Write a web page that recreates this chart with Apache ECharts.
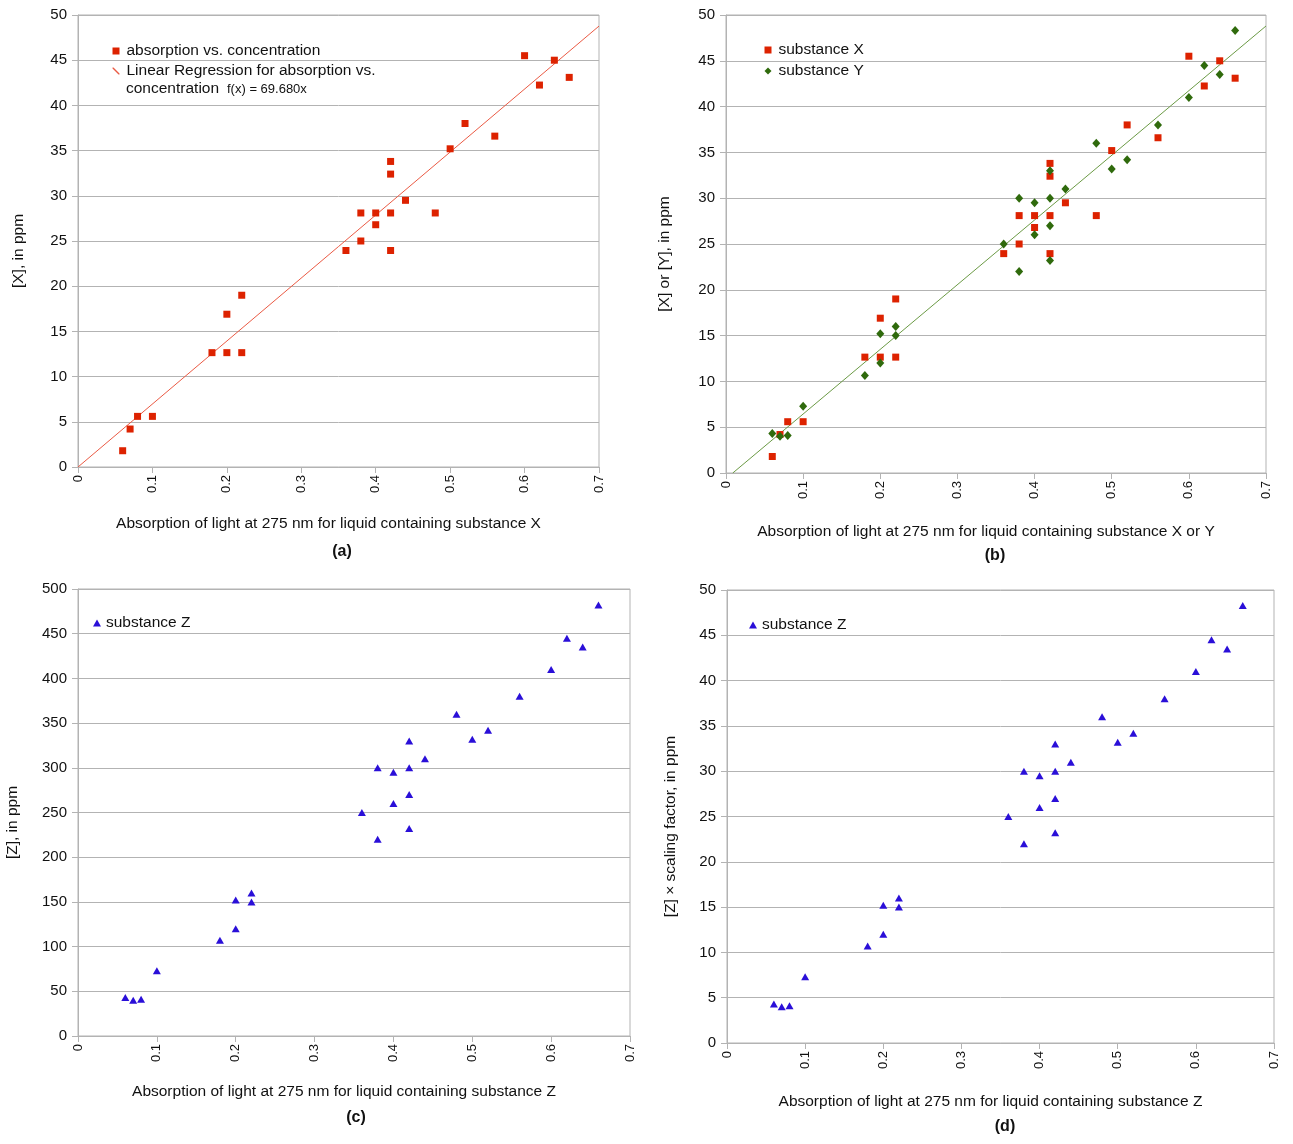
<!DOCTYPE html>
<html>
<head>
<meta charset="utf-8">
<script src="https://cdn.jsdelivr.net/npm/echarts@6/dist/echarts.min.js"></script>
<style>
html,body{margin:0;padding:0;background:#fff;}
#c{width:1293px;height:1144px;}
</style>
</head>
<body>
<div id="c"></div>
<script>
// ---- data ----
const absorbX = [0.06,0.07,0.08,0.10,0.18,0.20,0.20,0.22,0.22,0.36,0.38,0.38,0.40,0.40,0.42,0.42,0.42,0.42,0.44,0.48,0.50,0.52,0.56,0.60,0.62,0.64,0.66];
const concX   = [1.8,4.2,5.6,5.6,12.65,12.65,16.9,12.65,19.0,23.95,25.0,28.1,28.1,26.8,28.1,23.95,32.4,33.8,29.5,28.1,35.2,38.0,36.6,45.5,42.25,45.0,43.1];
const absorbYZ = [0.06,0.07,0.08,0.10,0.18,0.20,0.20,0.22,0.22,0.36,0.38,0.38,0.40,0.40,0.42,0.42,0.42,0.42,0.44,0.48,0.50,0.52,0.56,0.60,0.62,0.64,0.66];
const concY   = [4.3,4.0,4.1,7.3,10.65,12.0,15.2,15.0,16.0,25.0,22.0,30.0,26.0,29.5,23.2,27.0,30.0,33.0,31.0,36.0,33.2,34.2,38.0,41.0,44.5,43.5,48.3];
const concZ   = [43,40,41,73,107,120,152,150,160,250,220,300,260,295,232,270,300,330,310,360,332,342,380,410,445,435,482];
const scaledZ = [4.3,4.0,4.1,7.3,10.7,12.0,15.2,15.0,16.0,25.0,22.0,30.0,26.0,29.5,23.2,27.0,30.0,33.0,31.0,36.0,33.2,34.2,38.0,41.0,44.5,43.5,48.3];
const trendA = {slope: 69.68, intercept: 0};
const trendB = {slope: 70.6, intercept: -0.62};
const xTicks = {min: 0, max: 0.7, step: 0.1};
const yTicksSmall = {min: 0, max: 50, step: 5};
const yTicksLarge = {min: 0, max: 500, step: 50};

const xNames = [
  'Absorption of light at 275 nm for liquid containing substance X',
  'Absorption of light at 275 nm for liquid containing substance X or Y',
  'Absorption of light at 275 nm for liquid containing substance Z',
  'Absorption of light at 275 nm for liquid containing substance Z'
];
const yNames = ['[X], in ppm', '[X] or [Y], in ppm', '[Z], in ppm', '[Z] \u00d7 scaling factor, in ppm'];
const panelLabels = ['(a)', '(b)', '(c)', '(d)'];

// ---- helpers ----
const pair = (xs, ys) => xs.map((x, i) => [x, ys[i]]);
const trendLine = (t) => {
  const x0 = Math.max(xTicks.min, -t.intercept / t.slope);
  return [x0, xTicks.max].map(x => [x, t.slope * x + t.intercept]);
};
const TXT = '#111111';
const GRIDC = '#b3b3b3';
const FONT = 'Liberation Sans';

const grids = [
  {left: 78, top: 15, width: 521, height: 452},
  {left: 726, top: 15, width: 540, height: 458},
  {left: 78, top: 589, width: 552, height: 447},
  {left: 727, top: 590, width: 547, height: 453}
].map(g => Object.assign({show: true, borderColor: GRIDC, borderWidth: 1, backgroundColor: 'transparent'}, g));

const xGaps = [49, 51, 48, 51];
const yGaps = [51, 53, 57, 48];

const xAxes = grids.map((g, i) => ({
  type: 'value', gridIndex: i, min: xTicks.min, max: xTicks.max, interval: xTicks.step,
  name: xNames[i], nameLocation: 'middle', nameGap: xGaps[i],
  nameTextStyle: {fontSize: 15.5, color: TXT, fontFamily: FONT, padding: [0, 20, 0, 0]},
  axisLine: {show: true, onZero: false, lineStyle: {color: GRIDC}},
  axisTick: {show: true, length: 6, lineStyle: {color: GRIDC}},
  axisLabel: {rotate: 90, fontSize: 13, color: TXT, fontFamily: FONT, margin: 8},
  splitLine: {show: false}
}));

const yAxes = grids.map((g, i) => {
  const t = i === 2 ? yTicksLarge : yTicksSmall;
  return {
    type: 'value', gridIndex: i, min: t.min, max: t.max, interval: t.step,
    name: yNames[i], nameLocation: 'middle', nameGap: yGaps[i], nameRotate: 90,
    nameTextStyle: {fontSize: 15.5, color: TXT, fontFamily: FONT, padding: [0, 20, 0, 0]},
    axisLine: {show: true, lineStyle: {color: GRIDC}},
    axisTick: {show: true, length: 6, lineStyle: {color: GRIDC}},
    axisLabel: {fontSize: 15, color: TXT, fontFamily: FONT, margin: 11},
    splitLine: {show: true, lineStyle: {color: GRIDC, width: 1}}
  };
});

const RED = '#dd2200', GREEN = '#2f6a0c', BLUE = '#2a0fd8';
const LINE_A = '#ea5a44', LINE_B = '#6b9a45';
const regName = 'Linear Regression for absorption vs. concentration';

const series = [
  {type: 'line', name: regName, xAxisIndex: 0, yAxisIndex: 0, data: trendLine(trendA),
   symbol: 'none', lineStyle: {color: LINE_A, width: 1}, itemStyle: {color: LINE_A}, z: 1, silent: true},
  {type: 'scatter', name: 'absorption vs. concentration', xAxisIndex: 0, yAxisIndex: 0,
   data: pair(absorbX, concX), symbol: 'rect', symbolSize: 7, itemStyle: {color: RED, opacity: 1}, z: 3},

  {type: 'line', name: 'trend Y', xAxisIndex: 1, yAxisIndex: 1, data: trendLine(trendB),
   symbol: 'none', lineStyle: {color: LINE_B, width: 1}, itemStyle: {color: LINE_B}, z: 1, silent: true},
  {type: 'scatter', name: 'substance X', xAxisIndex: 1, yAxisIndex: 1,
   data: pair(absorbX, concX), symbol: 'rect', symbolSize: 7, itemStyle: {color: RED, opacity: 1}, z: 3},
  {type: 'scatter', name: 'substance Y', xAxisIndex: 1, yAxisIndex: 1,
   data: pair(absorbYZ, concY), symbol: 'diamond', symbolSize: [8, 9], itemStyle: {color: GREEN, opacity: 1}, z: 4},

  {type: 'scatter', name: 'substance Z', xAxisIndex: 2, yAxisIndex: 2,
   data: pair(absorbYZ, concZ), symbol: 'triangle', symbolSize: [8, 7], itemStyle: {color: BLUE, opacity: 1}, z: 3},
  {type: 'scatter', name: 'substance Z', xAxisIndex: 3, yAxisIndex: 3,
   data: pair(absorbYZ, scaledZ), symbol: 'triangle', symbolSize: [8, 7], itemStyle: {color: BLUE, opacity: 1}, z: 3}
];

const legendBase = {orient: 'vertical', itemWidth: 7, itemHeight: 7, itemGap: 4, padding: 0, selectedMode: false,
  textStyle: {fontSize: 15.5, color: TXT, fontFamily: FONT, padding: [0, 0, 0, 2]}};
const legends = [
  Object.assign({}, legendBase, {left: 112.5, top: 43,
    data: [{name: 'absorption vs. concentration', icon: 'rect', itemStyle: {color: RED, opacity: 1}},
           {name: regName, icon: 'path://M0,0L1.4,0L10,8.6L10,10L8.6,10L0,1.4Z', itemStyle: {color: LINE_A}}],
    formatter: n => n === regName ? 'Linear Regression for absorption vs.' : n}),
  Object.assign({}, legendBase, {left: 764.5, top: 42, itemGap: 5,
    data: [{name: 'substance X', icon: 'rect', itemStyle: {color: RED, opacity: 1}},
           {name: 'substance Y', icon: 'diamond', itemStyle: {color: GREEN, opacity: 1}}]}),
  Object.assign({}, legendBase, {left: 93, top: 615, itemWidth: 8,
    textStyle: Object.assign({}, legendBase.textStyle, {padding: [0, 0, 0, 0]}),
    data: [{name: 'substance Z', icon: 'triangle', itemStyle: {color: BLUE, opacity: 1}}]}),
  Object.assign({}, legendBase, {left: 749, top: 617, itemWidth: 8,
    textStyle: Object.assign({}, legendBase.textStyle, {padding: [0, 0, 0, 0]}),
    data: [{name: 'substance Z', icon: 'triangle', itemStyle: {color: BLUE, opacity: 1}}]})
];

const labelPos = [[342, 552], [995, 556], [356, 1118], [1005, 1127]];
const graphic = panelLabels.map((t, i) => ({
  type: 'text', x: labelPos[i][0], y: labelPos[i][1],
  style: {text: t, font: 'bold 16px "Liberation Sans"', fill: TXT, align: 'center', verticalAlign: 'middle'}
}));
graphic.push({type: 'text', x: 126, y: 89,
  style: {text: 'concentration', font: '15.5px "Liberation Sans"', fill: TXT, align: 'left', verticalAlign: 'middle'}});
graphic.push({type: 'text', x: 227, y: 89,
  style: {text: 'f(x) = 69.680x', font: '13px "Liberation Sans"', fill: TXT, align: 'left', verticalAlign: 'middle'}});

const chart = echarts.init(document.getElementById('c'), null, {renderer: 'canvas'});
chart.setOption({
  animation: false,
  backgroundColor: '#ffffff',
  textStyle: {fontFamily: FONT},
  grid: grids, xAxis: xAxes, yAxis: yAxes, series: series, legend: legends, graphic: graphic
});
</script>
</body>
</html>
